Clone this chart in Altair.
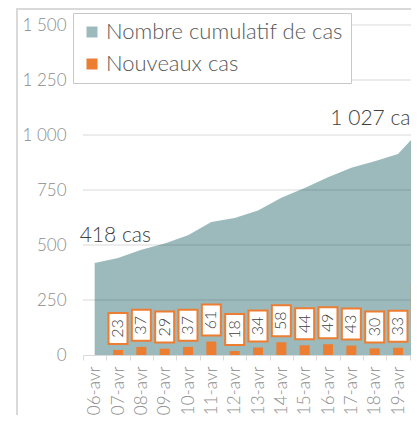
import altair as alt
import pandas as pd

dates = ["06-avr", "07-avr", "08-avr", "09-avr", "10-avr", "11-avr", "12-avr", "13-avr",
         "14-avr", "15-avr", "16-avr", "17-avr", "18-avr", "19-avr", "20-avr"]
cumulative = [418, 441, 478, 507, 544, 605, 623, 657, 715, 759, 808, 851, 881, 914, 1027]
new_cases = [None, 23, 37, 29, 37, 61, 18, 34, 58, 44, 49, 43, 30, 33, 113]
y_ticks = [0, 250, 500, 750, 1000, 1250, 1500]
grid_values = [250, 500, 750, 1000, 1250, 1500]
series = ["Nombre cumulatif de cas", "Nouveaux cas"]
colors = ["#9cbabc", "#ed7d31"]
annot_dates = ["06-avr", "20-avr"]
annot_values = [418, 1027]
annot_text = ["418 cas", "1 027 cas"]

FONT = "Lato"
W = 300

df_c = pd.DataFrame({"date": dates, "v": cumulative, "serie": series[0]})
df_n = pd.DataFrame({"date": dates, "new": new_cases, "serie": series[1]}).dropna()
df_grid = pd.DataFrame({"v": grid_values})
df_annot = pd.DataFrame({"date": annot_dates, "v": annot_values, "t": annot_text})
df_one = pd.DataFrame({"a": [0]})

xscale = alt.Scale(domain=dates, range=[0, 350], paddingInner=0, paddingOuter=0)
yscale = alt.Scale(domain=[0, 1500], nice=False)

x_axis = alt.Axis(title=None, labelAngle=270, labelFont=FONT, labelFontSize=17,
                  labelFontWeight=W, labelColor="#8c8c8c", tickBand="extent", tickSize=5,
                  tickColor="#d9d9d9", domainColor="#d9d9d9", labelPadding=6)
y_axis = alt.Axis(title=None, values=y_ticks, grid=False, domain=False, ticks=False,
                  labelFont=FONT, labelFontSize=17, labelFontWeight=W,
                  labelColor="#8c8c8c", labelPadding=17,
                  labelExpr="replace(format(datum.value, ','), ',', ' ')")

color = alt.Color("serie:N", scale=alt.Scale(domain=series, range=colors),
                  legend=alt.Legend(title=None, orient="none", legendX=-10, legendY=-12,
                                    direction="vertical", fillColor="white",
                                    strokeColor="#c8c8c8", padding=8,
                                    symbolType="square", symbolSize=121,
                                    symbolStrokeWidth=0, labelFont=FONT,
                                    labelFontSize=22, labelFontWeight=W,
                                    labelColor="#595959", labelLimit=0,
                                    rowPadding=10, labelOffset=3))


def X(**kw):
    return alt.X("date:N", sort=dates, scale=xscale, axis=x_axis, **kw)


def Y(field):
    return alt.Y(field, scale=yscale, axis=y_axis)


frame_left = alt.Chart(df_one).mark_rule(color="#d9d9d9", strokeWidth=2).encode(
    x=alt.value(-66), y=alt.value(-16), y2=alt.value(700))
frame_top = alt.Chart(df_one).mark_rule(color="#d9d9d9", strokeWidth=2).encode(
    x=alt.value(-67), x2=alt.value(600), y=alt.value(-16))

area = alt.Chart(df_c).mark_area(opacity=1).encode(
    x=X(bandPosition=0.5), y=Y("v:Q"), color=color)

grid = alt.Chart(df_grid).mark_rule(color="black", opacity=0.15, strokeWidth=1).encode(
    y=Y("v:Q"))

bars = alt.Chart(df_n).mark_bar(size=10).encode(x=X(), y=Y("new:Q"), color=color)

box_base = alt.Chart(df_n).encode(x=X(), y=Y("new:Q"), y2="new:Q")
boxes2 = box_base.transform_filter("datum.new < 100").mark_bar(
    size=19, fill="white", stroke="#ed7d31", strokeWidth=2, yOffset=-37, y2Offset=-6)
boxes3 = box_base.transform_filter("datum.new >= 100").mark_bar(
    size=19, fill="white", stroke="#ed7d31", strokeWidth=2, yOffset=-46, y2Offset=-6)

txt_base = alt.Chart(df_n).encode(x=X(bandPosition=0.5), y=Y("new:Q"), text="new:Q")
text2 = txt_base.transform_filter("datum.new < 100").mark_text(
    angle=270, font=FONT, fontSize=16, fontWeight=W, color="#404040", yOffset=-21.5)
text3 = txt_base.transform_filter("datum.new >= 100").mark_text(
    angle=270, font=FONT, fontSize=16, fontWeight=W, color="#404040", yOffset=-26)

annot_base = alt.Chart(df_annot).encode(x=X(bandPosition=0.5), y=Y("v:Q"), text="t:N")
annot1 = annot_base.transform_filter("datum.v < 500").mark_text(
    font=FONT, fontSize=21, fontWeight=W, color="#404040", align="left",
    baseline="alphabetic", dx=-15, dy=-21)
annot2 = annot_base.transform_filter("datum.v >= 500").mark_text(
    font=FONT, fontSize=21, fontWeight=W, color="#404040", align="left",
    baseline="alphabetic", dx=-91, dy=-4)

chart = alt.layer(frame_left, frame_top, area, grid, bars, boxes2, boxes3, text2, text3,
                  annot1, annot2).properties(
    width=328, height=330,
    padding={"left": 75, "top": 17, "right": 0, "bottom": 60},
    autosize=alt.AutoSizeParams(type="none"),
).configure_view(stroke=None)

chart.save("out.html", embed_options={"renderer": "svg", "actions": False})
